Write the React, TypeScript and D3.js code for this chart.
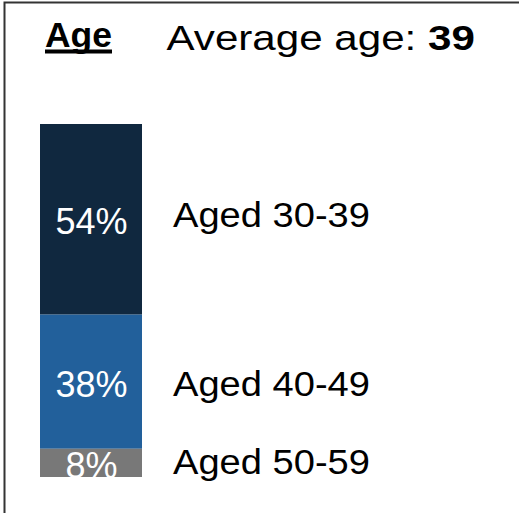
import React, { useEffect, useRef } from 'react';
import * as d3 from 'd3';

const ageGroups = ['Aged 30-39', 'Aged 40-49', 'Aged 50-59'];
const shares = [54, 38, 8];
const colors = ['#10283f', '#22609b', '#787878'];
const averageAge = 39;

const App: React.FC = () => {
  const ref = useRef<SVGSVGElement>(null);

  useEffect(() => {
    const svg = d3.select(ref.current);
    svg.selectAll('*').remove();
    const font = "'Liberation Sans', Arial, sans-serif";

    // stretch a text horizontally so it covers the given width
    const fit = (t: d3.Selection<SVGTextElement, any, any, any>, x: number, y: number, w: number) => {
      const len = (t.node() as SVGTextElement).getComputedTextLength();
      t.attr('transform', `translate(${x},${y}) scale(${w / len},1)`);
    };

    // frame (only top and left edges visible)
    svg.append('rect')
      .attr('x', 4.5).attr('y', 2.5).attr('width', 600).attr('height', 600)
      .attr('fill', 'none').attr('stroke', '#333').attr('stroke-width', 2);

    const title = svg.append('text')
      .attr('font-family', font).attr('font-size', 34.5).attr('font-weight', 'bold')
      .text('Age');
    fit(title, 45, 46.7, 67);
    svg.append('rect')
      .attr('x', 45).attr('y', 49.5).attr('width', 67).attr('height', 4)
      .attr('fill', '#000');

    const avg = svg.append('text')
      .attr('font-family', font).attr('font-size', 35);
    avg.append('tspan').text('Average age: ');
    avg.append('tspan').attr('font-weight', 'bold').text(String(averageAge));
    fit(avg, 166.5, 50, 308.5);

    const total = d3.sum(shares);
    const y = d3.scaleLinear().domain([0, total]).range([124, 477]);
    const x0 = 40;
    const barW = 102;

    const stacked = shares.map((v, i) => {
      const start = d3.sum(shares.slice(0, i));
      return { v, i, y0: y(start), y1: y(start + v) };
    });

    svg.append('clipPath').attr('id', 'barclip')
      .append('rect').attr('x', x0).attr('y', y(0)).attr('width', barW).attr('height', y(total) - y(0));

    const g = svg.append('g').attr('clip-path', 'url(#barclip)');
    g.selectAll('rect.seg').data(stacked).join('rect')
      .attr('class', 'seg')
      .attr('x', x0).attr('width', barW)
      .attr('y', (d) => d.y0).attr('height', (d) => d.y1 - d.y0)
      .attr('fill', (d) => colors[d.i]);

    g.selectAll('text.pct').data(stacked).join('text')
      .attr('class', 'pct')
      .attr('x', x0 + barW / 2 + 0.5)
      .attr('y', (d) => (d.y0 + d.y1) / 2 + 15)
      .attr('text-anchor', 'middle')
      .attr('font-family', font).attr('font-size', 36)
      .attr('fill', '#fff')
      .text((d) => `${d.v}%`);

    const labelOffset = [8, 14, 11];
    svg.selectAll('text.lbl').data(stacked).join('text')
      .attr('class', 'lbl')
      .attr('font-family', font).attr('font-size', 35)
      .attr('fill', '#000')
      .text((d) => ageGroups[d.i])
      .each(function (d) {
        fit(d3.select(this as SVGTextElement), 173, (d.y0 + d.y1) / 2 + labelOffset[d.i], 197);
      });
  }, []);

  return (
    <svg
      ref={ref}
      width={519}
      height={513}
      style={{ position: 'absolute', left: 0, top: 0, background: '#fff' }}
    />
  );
};

export default App;
